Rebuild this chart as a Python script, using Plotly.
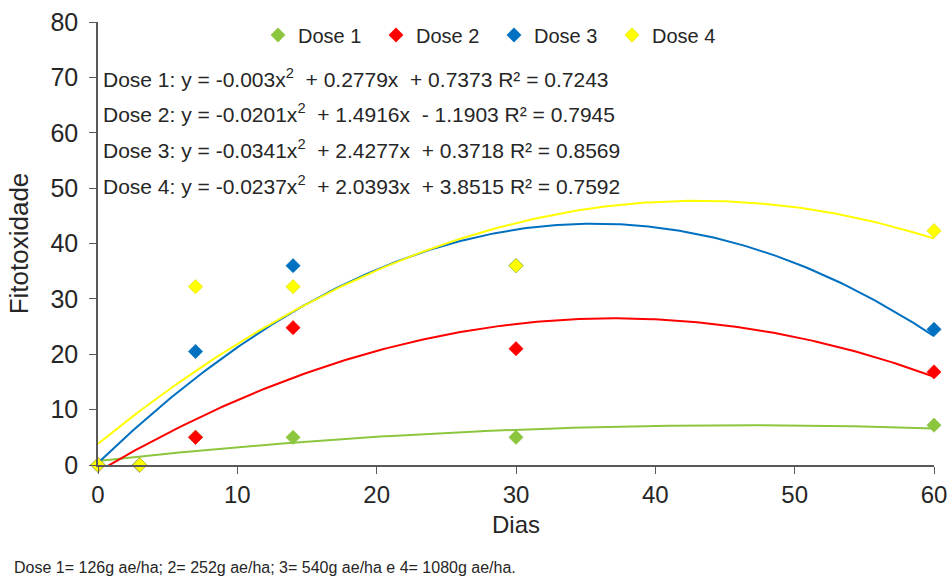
import numpy as np
import plotly.graph_objects as go

# ---- data ----
series_names = ["Dose 1", "Dose 2", "Dose 3", "Dose 4"]
colors = ["#8cc63f", "#ff0000", "#0070c0", "#ffff00"]

dias = [0, 3, 7, 14, 30, 60]
dose1 = [0, 0, 5.0, 5.0, 5.0, 7.2]
dose2 = [0, 0, 5.0, 24.8, 21.0, 16.8]
dose3 = [0, 0, 20.5, 36.0, 36.0, 24.5]
dose4 = [0, 0, 32.2, 32.2, 36.0, 42.3]
values = [dose1, dose2, dose3, dose4]

# trendline coefficients (a, b, c) for y = a x^2 + b x + c, as printed on chart
coef1 = [-0.003, 0.2779, 0.7373]
coef2 = [-0.0201, 1.4916, -1.1903]
coef3 = [-0.0341, 2.4277, 0.3718]
coef4 = [-0.0237, 2.0393, 3.8515]
coefs = [coef1, coef2, coef3, coef4]
eq_text = [
    "Dose 1: y = -0.003x<sup>2</sup>&nbsp; + 0.2779x&nbsp; + 0.7373 R² = 0.7243",
    "Dose 2: y = -0.0201x<sup>2</sup>&nbsp; + 1.4916x&nbsp; - 1.1903 R² = 0.7945",
    "Dose 3: y = -0.0341x<sup>2</sup>&nbsp; + 2.4277x&nbsp; + 0.3718 R² = 0.8569",
    "Dose 4: y = -0.0237x<sup>2</sup>&nbsp; + 2.0393x&nbsp; + 3.8515 R² = 0.7592",
]
eq_y = [69.9, 63.6, 57.0, 50.6]
xticks = [0, 10, 20, 30, 40, 50, 60]
yticks = [0, 10, 20, 30, 40, 50, 60, 70, 80]
footnote = "Dose 1= 126g ae/ha; 2= 252g ae/ha; 3= 540g ae/ha e 4= 1080g ae/ha."

FONT = "Liberation Sans, Arial, sans-serif"
TXT = "#262626"
AX = "#595959"
L, R, T, B = 98, 18, 22, 111
PW, PH = 952 - L - R, 576 - T - B

fig = go.Figure()

xs = np.linspace(0, 60, 241)
for name, col, c in zip(series_names, colors, coefs):
    ys = np.polyval(c, xs)
    fig.add_trace(go.Scatter(x=xs, y=ys, mode="lines", line=dict(color=col, width=2),
                             showlegend=False, hoverinfo="skip"))

for name, col, v in zip(series_names, colors, values):
    fig.add_trace(go.Scatter(x=dias, y=v, mode="markers", name=name,
                             marker=dict(symbol="diamond", size=11, color=col,
                                         line=dict(width=0.6, color="#d8d800" if col == "#ffff00" else col)),
                             cliponaxis=False))

for t, y in zip(eq_text, eq_y):
    fig.add_annotation(x=0.2, y=y, xref="x", yref="y", text=t, showarrow=False,
                       xanchor="left", yanchor="middle",
                       font=dict(family=FONT, size=21, color=TXT))

fig.add_annotation(xref="paper", yref="paper",
                   x=(12 - L) / PW, y=(PH + T - 567) / PH, text=footnote, showarrow=False,
                   xanchor="left", yanchor="middle",
                   font=dict(family=FONT, size=16, color=TXT))

fig.update_layout(
    width=952, height=576,
    margin=dict(l=L, r=R, t=T, b=B, autoexpand=False),
    paper_bgcolor="white", plot_bgcolor="white",
    font=dict(family=FONT, color=TXT),
    legend=dict(orientation="h", x=(258 - L) / PW, y=(PH + T - 35) / PH,
                xanchor="left", yanchor="middle",
                font=dict(family=FONT, size=20, color=TXT),
                entrywidth=73, entrywidthmode="pixels", itemwidth=30,
                bgcolor="rgba(0,0,0,0)"),
    xaxis=dict(range=[0, 60], tickvals=xticks, showgrid=False, zeroline=False,
               showline=True, linecolor=AX, linewidth=1.5, automargin=False,
               ticks="outside", ticklen=7, tickcolor=AX, ticklabelstandoff=0,
               tickfont=dict(family=FONT, size=24, color=TXT),
               title=dict(text="Dias", font=dict(family=FONT, size=24, color=TXT), standoff=10)),
    yaxis=dict(range=[0, 80], tickvals=yticks, showgrid=False, zeroline=False,
               showline=True, linecolor=AX, linewidth=1.5, automargin=False,
               ticks="outside", ticklen=7, tickcolor=AX, ticklabelstandoff=6,
               tickfont=dict(family=FONT, size=25, color=TXT),
               title=dict(text="Fitotoxidade", font=dict(family=FONT, size=26, color=TXT), standoff=14)),
)

fig.write_html("out.html", config={"displayModeBar": False},
               post_script="document.body.style.margin='0';")
